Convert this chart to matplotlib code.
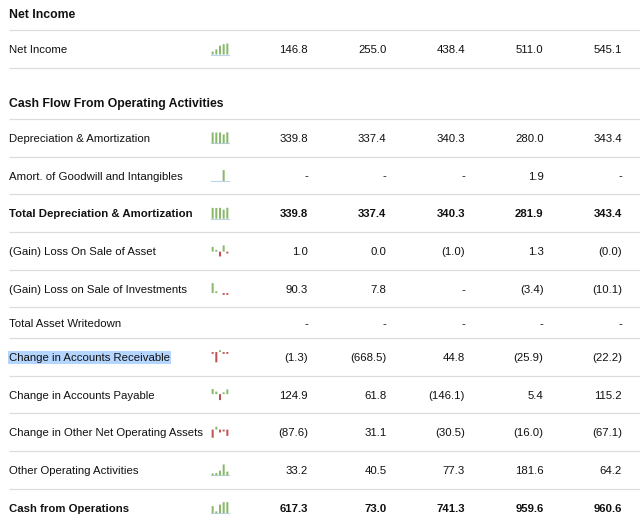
import numpy as np
import matplotlib
matplotlib.use("Agg")
import matplotlib.pyplot as plt

nan = np.nan

# ---- data ----
section1 = "Net Income"
section2 = "Cash Flow From Operating Activities"

labels_s1 = ["Net Income"]
values_s1 = [[146.8, 255.0, 438.4, 511.0, 545.1]]

labels_s2 = [
    "Depreciation & Amortization",
    "Amort. of Goodwill and Intangibles",
    "Total Depreciation & Amortization",
    "(Gain) Loss On Sale of Asset",
    "(Gain) Loss on Sale of Investments",
    "Total Asset Writedown",
    "Change in Accounts Receivable",
    "Change in Accounts Payable",
    "Change in Other Net Operating Assets",
    "Other Operating Activities",
    "Cash from Operations",
]
values_s2 = [
    [339.8, 337.4, 340.3, 280.0, 343.4],
    [nan, nan, nan, 1.9, nan],
    [339.8, 337.4, 340.3, 281.9, 343.4],
    [1.0, 0.0, -1.0, 1.3, -0.04],
    [90.3, 7.8, nan, -3.4, -10.1],
    [nan, nan, nan, nan, nan],
    [-1.3, -668.5, 44.8, -25.9, -22.2],
    [124.9, 61.8, -146.1, 5.4, 115.2],
    [-87.6, 31.1, -30.5, -16.0, -67.1],
    [33.2, 40.5, 77.3, 181.6, 64.2],
    [617.3, 73.0, 741.3, 959.6, 960.6],
]
bold_rows = {"Total Depreciation & Amortization", "Cash from Operations"}
highlight_rows = {"Change in Accounts Receivable"}

# ---- style ----
W, H = 640, 526
DPI = 100
PX = 72.0 / DPI
FONT = ["Liberation Sans", "DejaVu Sans"]
GREEN = "#8ab96c"
RED = "#bf5250"
BASE = "#bcd3ec"
GRID = "#dcdcdc"
TXT = "#111111"
col_right = [308, 386.5, 465, 543.5, 622]
spark_x0, spark_x1 = 211, 229
BODY = 11.35
HEAD = 12.2

fig = plt.figure(figsize=(W / DPI, H / DPI), dpi=DPI)
fig.patch.set_facecolor("white")
ax = fig.add_axes([0, 0, 1, 1])
ax.set_xlim(0, W)
ax.set_ylim(H, 0)
ax.axis("off")


def fmt(v):
    if np.isnan(v):
        return "-"
    if v < 0:
        return f"({abs(v):.1f})"
    return f"{v:.1f}"


def hline(y):
    ax.plot([9, W], [y, y], color=GRID, lw=1.2 * PX, solid_capstyle="butt", zorder=1)


def sparkline(vals, yc):
    v = np.array(vals, dtype=float)
    if np.all(np.isnan(v)):
        return
    lo = min(0.0, np.nanmin(v))
    hi = max(0.0, np.nanmax(v))
    h = 11.0
    top = yc - 5.5
    sax = fig.add_axes([spark_x0 / W, 1 - (top + h) / H, (spark_x1 - spark_x0) / W, h / H])
    sax.set_xlim(-0.45, 4.45)
    sax.set_ylim(lo, hi)
    sax.axis("off")
    minh = (hi - lo) * 1.8 / h
    x = np.arange(len(v))
    for xi, vi in zip(x, v):
        if np.isnan(vi):
            continue
        if vi >= 0:
            b = sax.bar(xi, max(vi, minh), width=0.55, bottom=0, color=GREEN, lw=0)
        else:
            b = sax.bar(xi, min(vi, -minh), width=0.55, bottom=0, color=RED, lw=0)
        for p in b:
            p.set_clip_on(False)
            p.set_snap(False)
    if lo >= 0:
        ln = sax.axhline(0, color=BASE, lw=1.1 * PX, zorder=0)
        ln.set_clip_on(False)


def row(label, vals, yc):
    bold = label in bold_rows
    w = "bold" if bold else "normal"
    kw = dict(fontsize=BODY * PX, family=FONT, color=TXT, weight=w, va="baseline")
    bbox = None
    if label in highlight_rows:
        bbox = dict(boxstyle="square,pad=0.12", fc="#b4d5fe", ec="none")
    ax.text(9, yc + 4.0, label, ha="left", bbox=bbox, **kw)
    for xr, v in zip(col_right, vals):
        ax.text(xr, yc + 4.0, fmt(v), ha="right", **kw)
    sparkline(vals, yc)


def header(text, ybase):
    ax.text(9, ybase, text, ha="left", va="baseline", fontsize=HEAD * PX,
            family=FONT, weight="bold", color=TXT)


# ---- layout ----
header(section1, 18.5)
hline(30)
y = 30
for lab, vals in zip(labels_s1, values_s1):
    rh = 38
    row(lab, vals, y + rh / 2)
    y += rh
    hline(y)

header(section2, 106.5)
y = 119
hline(y)
for i, (lab, vals) in enumerate(zip(labels_s2, values_s2)):
    has_spark = not np.all(np.isnan(vals))
    rh = 37.7 if has_spark else 30.5
    row(lab, vals, y + rh / 2)
    y += rh
    if i < len(labels_s2) - 1:
        hline(y)

fig.savefig("out.png", dpi=DPI, facecolor="white")
